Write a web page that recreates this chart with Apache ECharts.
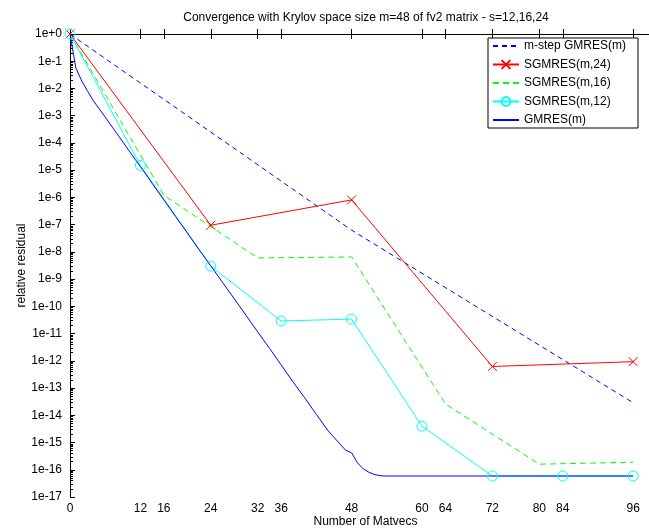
<!DOCTYPE html>
<html><head><meta charset="utf-8">
<script src="https://cdn.jsdelivr.net/npm/echarts@6/dist/echarts.min.js"></script>
<style>html,body{margin:0;padding:0;background:#fff}#c{width:649px;height:531px}</style>
</head><body><div id="c"></div>
<script>
const titleText = 'Convergence with Krylov space size m=48 of fv2 matrix - s=12,16,24';
const xLabel = 'Number of Matvecs';
const yLabel = 'relative residual';
const xTicks = [0,12,16,24,32,36,48,60,64,72,80,84,96];
const seriesNames = ['m-step GMRES(m)','SGMRES(m,24)','SGMRES(m,16)','SGMRES(m,12)','GMRES(m)'];

const mstepX = [0,48,96];
const mstepY = [1,6.3e-8,2.9e-14];
const s24X = [0,24,48,72,96];
const s24Y = [1,9.5e-8,8.1e-7,6.2e-13,9.3e-13];
const s16X = [0,16,32,48,64,80,96];
const s16Y = [1,1.2e-6,6.0e-9,6.5e-9,2.6e-14,1.6e-16,1.9e-16];
const s12X = [0,12,24,36,48,60,72,84,96];
const s12Y = [1,1.5e-5,3.0e-9,2.9e-11,3.4e-11,4.0e-15,5.9e-17,5.9e-17,5.9e-17];
const gmX = [0,1,2,3,4,6,8,10,12,14,16,18,20,22,24,26,28,30,32,34,36,38,40,42,44,46,47,48,49,50,51,52,53,54,60,72,84,96];
const gmY = [1,5.6e-2,1.9e-2,7.9e-3,3.5e-3,8.9e-4,2.2e-4,5.4e-5,1.35e-5,3.3e-6,8.1e-7,2.0e-7,5.0e-8,1.2e-8,3.1e-9,7.6e-10,1.9e-10,4.7e-11,1.15e-11,2.9e-12,7.1e-13,1.7e-13,4.4e-14,1.07e-14,2.7e-15,8.9e-16,5.2e-16,4.2e-16,1.8e-16,1.07e-16,8.0e-17,6.6e-17,6.0e-17,5.9e-17,5.9e-17,5.9e-17,5.9e-17,5.9e-17];

const zip = (xs, ys) => xs.map((x, i) => [x, ys[i]]);
const FONT = 'Liberation Sans';
const NOFILL = {color: 'rgba(0,0,0,0)', borderColor: 'rgba(0,0,0,0)', borderWidth: 0};
const minorTicks = [];
for (let n = -17; n < 0; n++) for (let k = 2; k <= 9; k++) minorTicks.push(n + Math.log10(k));

const chart = echarts.init(document.getElementById('c'), null, {renderer: 'canvas'});
chart.setOption({
  animation: false,
  backgroundColor: '#fff',
  textStyle: {fontFamily: FONT},
  title: {
    text: titleText, left: 366, top: 12, textAlign: 'center', padding: 0,
    textStyle: {fontSize: 12, fontWeight: 'normal', color: '#000', fontFamily: FONT}
  },
  legend: {
    orient: 'vertical', left: 488, top: 38,
    padding: [2, 12, 2, 4], itemWidth: 26, itemHeight: 11, itemGap: 6.5,
    backgroundColor: '#fff', borderColor: '#000', borderWidth: 1, borderRadius: 0,
    textStyle: {fontSize: 12, color: '#000', fontFamily: FONT},
    data: seriesNames
  },
  grid: {left: 70, right: 0, top: 34, bottom: 34, outerBoundsMode: 'none', containLabel: false},
  xAxis: [{
    type: 'value', min: 0, max: 98.7,
    name: xLabel, nameLocation: 'middle', nameGap: 19, nameMoveOverlap: false,
    nameTextStyle: {fontSize: 12, color: '#000', fontFamily: FONT, padding: [0, 0, 0, 12]},
    axisLine: {show: true, lineStyle: {color: '#000', width: 1}},
    axisTick: {show: true, inside: true, length: 5, customValues: xTicks, lineStyle: {color: '#000'}},
    axisLabel: {show: true, customValues: xTicks, margin: 6, fontSize: 12, color: '#000', fontFamily: FONT},
    splitLine: {show: false}
  }, {
    type: 'value', min: 0, max: 98.7, position: 'top',
    axisLine: {show: true, onZero: false, lineStyle: {color: '#000', width: 1}},
    axisTick: {show: true, inside: true, length: 5, customValues: xTicks, lineStyle: {color: '#000'}},
    axisLabel: {show: false},
    splitLine: {show: false}
  }],
  yAxis: [{
    type: 'log', logBase: 10, min: 1e-17, max: 1, interval: 1,
    name: yLabel, nameLocation: 'middle', nameGap: 42, nameRotate: 90, nameMoveOverlap: false,
    nameTextStyle: {fontSize: 12, color: '#000', fontFamily: FONT},
    axisLine: {show: true, lineStyle: {color: '#000', width: 1}},
    axisTick: {show: true, inside: true, length: 5, lineStyle: {color: '#000'}},
    axisLabel: {
      show: true, margin: 8, fontSize: 12, color: '#000', fontFamily: FONT,
      formatter: v => { const e = Math.round(Math.log10(v)); return '1e' + (e >= 0 ? '+' : '') + e; }
    },
    minorTick: {show: false},
    splitLine: {show: false}
  }, {
    type: 'value', min: -17, max: 0, position: 'left',
    axisLine: {show: false},
    axisTick: {show: true, inside: true, length: 3, customValues: minorTicks, lineStyle: {color: '#000'}},
    axisLabel: {show: false},
    splitLine: {show: false}
  }],
  series: [
    {name: seriesNames[0], type: 'line', data: zip(mstepX, mstepY), symbol: 'none',
     lineStyle: {color: '#0000ff', width: 1, type: [5, 4]}, itemStyle: NOFILL},
    {name: seriesNames[1], type: 'line', data: zip(s24X, s24Y),
     symbol: 'path://M0,0L10,10M10,0L0,10', symbolSize: 9,
     lineStyle: {color: '#ff0000', width: 1}, itemStyle: {color: '#ff0000', borderColor: '#ff0000', borderWidth: 1}},
    {name: seriesNames[2], type: 'line', data: zip(s16X, s16Y), symbol: 'none',
     lineStyle: {color: '#00ff00', width: 1, type: [6, 4]}, itemStyle: NOFILL},
    {name: seriesNames[3], type: 'line', data: zip(s12X, s12Y),
     symbol: 'circle', symbolSize: 10,
     lineStyle: {color: '#00ffff', width: 1}, itemStyle: {color: 'rgba(0,0,0,0)', borderColor: '#00ffff', borderWidth: 1}},
    {name: seriesNames[4], type: 'line', data: zip(gmX, gmY), symbol: 'none',
     lineStyle: {color: '#0000ff', width: 1}, itemStyle: NOFILL}
  ]
});
</script></body></html>
